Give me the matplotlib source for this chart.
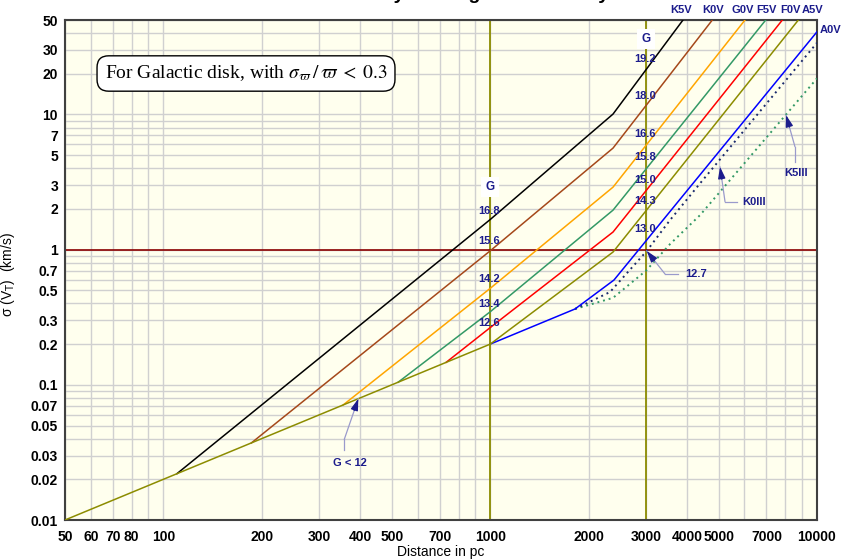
import numpy as np
import matplotlib.pyplot as plt
import matplotlib.transforms as mtransforms
from matplotlib.ticker import FixedLocator, LogLocator, NullFormatter

plt.rcParams['font.family'] = ['Liberation Sans', 'DejaVu Sans']
plt.rcParams['mathtext.fontset'] = 'stix'

# distance (pc) / sigma(V_T) (km/s) break points
base_d = [50, 1000]
base_s = [0.01, 0.2]
k5v_d = [110, 1000, 2376, 3890]
k5v_s = [0.022, 1.67, 10.07, 50]
k0v_d = [186, 1000, 2376, 4783]
k0v_s = [0.0372, 0.98, 5.64, 50]
g0v_d = [355, 1000, 2376, 6021]
g0v_s = [0.071, 0.517, 2.90, 50]
f5v_d = [523, 1000, 2376, 6969]
f5v_s = [0.1046, 0.347, 1.96, 50]
f0v_d = [733, 1000, 2376, 7834]
f0v_s = [0.1466, 0.265, 1.35, 50]
a5v_d = [1000, 2376, 8770]
a5v_s = [0.2, 0.96, 50]
a0v_d = [1000, 1818, 2392, 10000]
a0v_s = [0.2, 0.364, 0.596, 40.9]
k0iii_d = [1818, 2326, 3012, 3551, 4386, 10000]
k0iii_s = [0.364, 0.486, 0.976, 1.656, 3.09, 33.9]
k5iii_d = [1818, 2376, 3000, 3551, 4386, 10000]
k5iii_s = [0.364, 0.44, 0.70, 1.1, 1.80, 18.5]

xticks = [50, 60, 70, 80, 100, 200, 300, 400, 500, 700, 1000, 2000, 3000, 4000, 5000, 7000, 10000]
yticks = [0.01, 0.02, 0.03, 0.05, 0.07, 0.1, 0.2, 0.3, 0.5, 0.7, 1, 2, 3, 5, 7, 10, 20, 30, 50]
ytick_labels = ['0.01', '0.02', '0.03', '0.05', '0.07', '0.1', '0.2', '0.3', '0.5', '0.7',
                '1', '2', '3', '5', '7', '10', '20', '30', '50']

# G magnitude labels along the 1000 pc and 3000 pc lines
g1000_labels = ['16.8', '15.6', '14.2', '13.4', '12.6']
g1000_y = [0.618, 0.5586, 0.482, 0.432, 0.3934]
g3000_labels = ['19.2', '18.0', '16.6', '15.8', '15.0', '14.3', '13.0']
g3000_y = [0.922, 0.848, 0.772, 0.7254, 0.68, 0.6386, 0.582]

spec_labels = ['K5V', 'K0V', 'G0V', 'F5V', 'F0V', 'A5V']
spec_x = [0.8191, 0.8613, 0.9007, 0.9331, 0.9641, 0.9943]

navy = '#1c1c8c'
olive = '#8c8c00'
lav = '#9a9acc'

fig = plt.figure(figsize=(8.42, 5.6), dpi=100)
ax = fig.add_axes([65/842, 40/560, 752/842, 500/560])
ax.set_xscale('log')
ax.set_yscale('log')
ax.set_xlim(50, 10000)
ax.set_ylim(0.01, 50)
ax.set_facecolor('#ffffee')

ax.xaxis.set_major_locator(FixedLocator(xticks))
ax.xaxis.set_minor_locator(LogLocator(base=10, subs=np.arange(1, 10)))
ax.xaxis.set_minor_formatter(NullFormatter())
ax.set_xticklabels([str(v) for v in xticks], fontweight='bold', fontsize=10)
ax.yaxis.set_major_locator(FixedLocator(yticks))
ax.yaxis.set_minor_locator(LogLocator(base=10, subs=np.arange(1, 10)))
ax.yaxis.set_minor_formatter(NullFormatter())
ax.set_yticklabels(ytick_labels, fontweight='bold', fontsize=10)
ax.tick_params(which='both', length=0)
ax.tick_params(axis='x', pad=7)
ax.tick_params(axis='y', pad=5)
ax.set_axisbelow(True)
ax.grid(which='both', color='#d0d0d0', lw=1.0)
for sp in ax.spines.values():
    sp.set_color('#404040')
    sp.set_linewidth(1.5)

ax.axvline(1000, color=olive, lw=1.3, zorder=2)
ax.axvline(3000, color=olive, lw=1.3, zorder=2)
ax.axhline(1, color='#8b0000', lw=1.2, zorder=2)

lw = 1.1
ax.plot(k5iii_d, k5iii_s, color='#339966', lw=1.4, ls=(0, (1, 2)), zorder=3)
ax.plot(k0iii_d, k0iii_s, color='#1a2a6c', lw=1.4, ls=(0, (1, 2)), zorder=3)
ax.plot(a0v_d, a0v_s, color='#0000ff', lw=lw, zorder=4)
ax.plot(a5v_d, a5v_s, color=olive, lw=lw, zorder=4)
ax.plot(f0v_d, f0v_s, color='#ff0000', lw=lw, zorder=4)
ax.plot(f5v_d, f5v_s, color='#339966', lw=lw, zorder=4)
ax.plot(g0v_d, g0v_s, color='#ffa500', lw=lw, zorder=4)
ax.plot(k0v_d, k0v_s, color='#a5481a', lw=lw, zorder=4)
ax.plot(k5v_d, k5v_s, color='black', lw=lw, zorder=4)
ax.plot(base_d, base_s, color=olive, lw=lw, zorder=5)

blend = mtransforms.blended_transform_factory(ax.transData, ax.transAxes)
gbox = dict(boxstyle='square,pad=0.35', fc='white', ec='none')
ax.text(1000, 0.6654, 'G', transform=blend, ha='center', va='center', color=navy,
        fontsize=8.5, fontweight='bold', bbox=gbox, zorder=6)
ax.text(3000, 0.9614, 'G', transform=blend, ha='center', va='center', color=navy,
        fontsize=8.5, fontweight='bold', bbox=gbox, zorder=6)
for lab, yy in zip(g1000_labels, g1000_y):
    ax.text(995, yy, lab, transform=blend, ha='center', va='center', color=navy,
            fontsize=8, fontweight='bold', zorder=6)
for lab, yy in zip(g3000_labels, g3000_y):
    ax.text(2980, yy, lab, transform=blend, ha='center', va='center', color=navy,
            fontsize=8, fontweight='bold', zorder=6)

for lab, xx in zip(spec_labels, spec_x):
    ax.text(xx, 1.02, lab, transform=ax.transAxes, ha='center', va='center', color=navy,
            fontsize=8, fontweight='bold', clip_on=False)
ax.text(1.0186, 0.98, 'A0V', transform=ax.transAxes, ha='center', va='center', color=navy,
        fontsize=8, fontweight='bold', clip_on=False)


def pointer(label, tip, txt_xy, ha, path, head):
    ax.text(txt_xy[0], txt_xy[1], label, transform=ax.transAxes, ha=ha, va='center',
            color=navy, fontsize=8, fontweight='bold', zorder=7)
    ax.plot([p[0] for p in path], [p[1] for p in path], color=lav, lw=0.9,
            transform=ax.transAxes, zorder=7)
    ax.annotate('', xy=tip, xycoords='data', xytext=path[-1], textcoords='axes fraction',
                arrowprops=dict(arrowstyle='-', color=lav, lw=0.9, shrinkA=0, shrinkB=0),
                zorder=7)
    ax.annotate('', xy=tip, xycoords='data', xytext=head, textcoords='offset points',
                arrowprops=dict(arrowstyle='-|>,head_length=0.7,head_width=0.22', color=navy,
                                lw=0.9, shrinkA=0, shrinkB=0), zorder=8)


pointer('G < 12', (395, 0.079), (0.379, 0.114), 'center',
        [(0.3714, 0.14), (0.3714, 0.1614)], (-3.0, -8.5))
pointer('12.7', (3012, 0.98), (0.8245, 0.492), 'left',
        [(0.8152, 0.492), (0.7979, 0.492)], (5.6, -7.1))
pointer('K0III', (5050, 4.1), (0.9162, 0.636), 'center',
        [(0.8932, 0.6366), (0.8777, 0.6366)], (1.3, -8.9))
pointer('K5III', (8040, 9.9), (0.9721, 0.694), 'center',
        [(0.9707, 0.7166), (0.9707, 0.7466)], (2.5, -8.6))

ax.text(0.2407, 0.893, r'For Galactic disk, with $\sigma_\varpi\,/\,\varpi\;<\;0.3$',
        transform=ax.transAxes, ha='center', va='center', fontsize=14,
        family='Liberation Serif', zorder=8,
        bbox=dict(boxstyle='round,pad=0.4,rounding_size=0.6', fc='white', ec='black', lw=1))

ax.set_xlabel('Distance in pc', fontsize=10, labelpad=1)
ax.set_ylabel(r'σ (V$_{\mathsf{T}}$)  (km/s)', fontsize=10, math_fontfamily='dejavusans')
ax.yaxis.set_label_coords(-0.064, 0.49)

# title sits mostly above the visible canvas, as in the source image
fig.text(0.523, 1.0 + 1/560, 'Gaia accuracy on tangential velocity', ha='center',
         va='baseline', fontsize=14, fontweight='bold')

fig.savefig('out.png', dpi=100)
